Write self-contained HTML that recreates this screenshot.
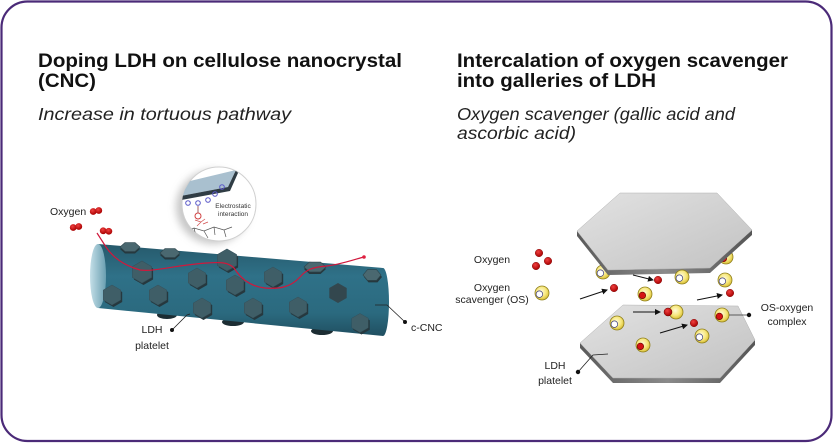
<!DOCTYPE html>
<html><head><meta charset="utf-8"><style>
html,body{margin:0;padding:0;background:#fff;}
svg{display:block;}
</style></head><body>
<svg width="835" height="443" viewBox="0 0 835 443" xmlns="http://www.w3.org/2000/svg" font-family="'Liberation Sans', sans-serif">
<defs>
<linearGradient id="cyl" x1="0" y1="0" x2="0" y2="1">
<stop offset="0" stop-color="#26596b"/><stop offset="0.35" stop-color="#2f7188"/><stop offset="0.75" stop-color="#2b6a7f"/><stop offset="1" stop-color="#204f61"/>
</linearGradient>
<linearGradient id="capg" x1="0" y1="0" x2="1" y2="0">
<stop offset="0" stop-color="#c4dfe8"/><stop offset="1" stop-color="#6a9fb1"/>
</linearGradient>
<linearGradient id="plt" x1="0" y1="0" x2="1" y2="1">
<stop offset="0" stop-color="#e2e2e2"/><stop offset="1" stop-color="#c2c2c2"/>
</linearGradient>
<linearGradient id="pltE" x1="0" y1="0" x2="1" y2="0">
<stop offset="0" stop-color="#5a5a5a"/><stop offset="0.5" stop-color="#8a8a8a"/><stop offset="1" stop-color="#555"/>
</linearGradient>
<radialGradient id="yg" cx="0.45" cy="0.4" r="0.6">
<stop offset="0" stop-color="#fffbd8"/><stop offset="0.6" stop-color="#f6e67a"/><stop offset="1" stop-color="#d9bf36"/>
</radialGradient>
<radialGradient id="rg" cx="0.4" cy="0.35" r="0.65">
<stop offset="0" stop-color="#f04040"/><stop offset="1" stop-color="#a80000"/>
</radialGradient>
<filter id="blur" x="-50%" y="-50%" width="200%" height="200%"><feGaussianBlur stdDeviation="4"/></filter>
<clipPath id="mag"><circle cx="219" cy="204" r="37"/></clipPath>
<polygon id="hx" points="0,-10 8.7,-5 8.7,5 0,10 -8.7,5 -8.7,-5"/>
<polygon id="hf" points="-10,0 -5,-4.5 5,-4.5 10,0 5,4.5 -5,4.5"/>
<g id="osw"><circle r="7" fill="url(#yg)" stroke="#8f7f1c" stroke-width="0.8"/><circle cx="-2.6" cy="1.2" r="3.3" fill="#fff" stroke="#3c3c7a" stroke-width="0.7"/></g>
<g id="osr"><circle r="7" fill="url(#yg)" stroke="#8f7f1c" stroke-width="0.8"/><circle cx="-2.6" cy="1.4" r="3.3" fill="#d41414" stroke="#6a0000" stroke-width="0.6"/></g>
<circle id="ox" r="3.8" fill="url(#rg)" stroke="#700" stroke-width="0.4"/>
<g id="o2"><circle cx="-2.8" cy="0.5" r="3.4" fill="url(#rg)"/><circle cx="2.8" cy="-0.5" r="3.4" fill="url(#rg)"/></g>
<marker id="ar" markerWidth="6" markerHeight="6" refX="5" refY="3" orient="auto" markerUnits="userSpaceOnUse"><path d="M0,0 L6,3 L0,6 Z" fill="#111"/></marker>
</defs>

<rect x="1.5" y="1.5" width="830" height="439.5" rx="26" ry="26" fill="#fff" stroke="#4b2a78" stroke-width="2.2"/>

<!-- Titles -->
<g fill="#111" font-weight="bold" font-size="19.5">
<text x="38" y="67" textLength="364" lengthAdjust="spacingAndGlyphs">Doping LDH on cellulose nanocrystal</text>
<text x="38" y="87" textLength="58" lengthAdjust="spacingAndGlyphs">(CNC)</text>
<text x="457" y="67" textLength="331" lengthAdjust="spacingAndGlyphs">Intercalation of oxygen scavenger</text>
<text x="457" y="87" textLength="199" lengthAdjust="spacingAndGlyphs">into galleries of LDH</text>
</g>
<g fill="#222" font-style="italic" font-size="17.5">
<text x="38" y="120" textLength="253" lengthAdjust="spacingAndGlyphs">Increase in tortuous pathway</text>
<text x="457" y="120" textLength="278" lengthAdjust="spacingAndGlyphs">Oxygen scavenger (gallic acid and</text>
<text x="457" y="139" textLength="119" lengthAdjust="spacingAndGlyphs">ascorbic acid)</text>
</g>

<!-- LEFT: magnifier -->
<circle cx="213" cy="207" r="37" fill="#9a9a9a" opacity="0.55" filter="url(#blur)"/>
<circle cx="219" cy="204" r="37" fill="#fff" stroke="#d0d0d0" stroke-width="1"/>
<g clip-path="url(#mag)">
<polygon points="181,196 190,181 236,170 228,187" fill="#a9c0cf"/>
<polygon points="181,196 228,187 236,170 238,173 230,191 181,200" fill="#2f3c44"/>
<g fill="none" stroke="#5a58c8" stroke-width="1">
<circle cx="188" cy="203" r="2.3"/><circle cx="198" cy="203" r="2.3"/><circle cx="208" cy="200" r="2.3"/><circle cx="215" cy="194" r="2.3"/><circle cx="222" cy="187" r="2.3"/>
</g>
<line x1="198" y1="206" x2="198" y2="213" stroke="#8a3a3a" stroke-width="0.8"/>
<circle cx="198" cy="216" r="3" fill="none" stroke="#d04040" stroke-width="1"/>
<path d="M195,220 L201,222 L197,226 M201,222 L205,219 M203,224 L208,222" stroke="#d05050" stroke-width="0.7" fill="none"/>
<path d="M186,232 L194,228 L204,231 L214,227 L224,230 L232,227 M194,228 L196,236 M214,227 L215,235 M204,231 L208,238 M224,230 L226,237" stroke="#555" stroke-width="0.7" fill="none"/>
<text x="233" y="208" font-size="6.5" fill="#333" text-anchor="middle">Electrostatic</text>
<text x="233" y="216" font-size="6.5" fill="#333" text-anchor="middle">interaction</text>
</g>

<!-- underside dark platelets -->
<g fill="#1c2d33">
<ellipse cx="167" cy="315" rx="10" ry="4"/>
<ellipse cx="233" cy="322" rx="11" ry="4"/>
<ellipse cx="322" cy="331" rx="11" ry="4"/>
</g>
<!-- cylinder -->
<path d="M98,244 L383,268 A6,34 0 0 1 383,336 L98,308 Z" fill="url(#cyl)"/>
<ellipse cx="98" cy="276" rx="8" ry="32" fill="url(#capg)"/>

<!-- hexagons on cylinder -->
<g>
<g fill="#26383e">
<use href="#hx" transform="translate(143.5,274) scale(1.1)"/>
<use href="#hx" transform="translate(198.5,280)"/>
<use href="#hx" transform="translate(274.5,279)"/>
<use href="#hx" transform="translate(236.5,287)"/>
<use href="#hx" transform="translate(113.5,297)"/>
<use href="#hx" transform="translate(159.5,297)"/>
<use href="#hx" transform="translate(203.5,310)"/>
<use href="#hx" transform="translate(254.5,310)"/>
<use href="#hx" transform="translate(299.5,309)"/>
<use href="#hx" transform="translate(361.5,325) scale(0.95)"/>
<use href="#hx" transform="translate(228.5,262) scale(1.1)"/>
<use href="#hf" transform="translate(130,249)"/>
<use href="#hf" transform="translate(170,255)"/>
<use href="#hf" transform="translate(315,269) scale(1.1)"/>
<use href="#hf" transform="translate(373,277) scale(0.9,1.2)"/>
</g>
<g fill="#3f5e67" stroke="#35505a" stroke-width="0.5">
<use href="#hx" transform="translate(142,272) scale(1.1)"/>
<use href="#hx" transform="translate(197,278)"/>
<use href="#hx" transform="translate(273,277)"/>
<use href="#hx" transform="translate(235,285)"/>
<use href="#hx" transform="translate(112,295)"/>
<use href="#hx" transform="translate(158,295)"/>
<use href="#hx" transform="translate(202,308)"/>
<use href="#hx" transform="translate(253,308)"/>
<use href="#hx" transform="translate(298,307)"/>
<use href="#hx" transform="translate(360,323) scale(0.95)"/>
<use href="#hx" transform="translate(227,260) scale(1.1)"/>
</g>
<use href="#hx" transform="translate(338,293)" fill="#33474e"/>
<g fill="#4a6870" stroke="#2e454c" stroke-width="0.6">
<use href="#hf" transform="translate(130,247)"/>
<use href="#hf" transform="translate(170,253)"/>
<use href="#hf" transform="translate(315,267) scale(1.1)"/>
<use href="#hf" transform="translate(372,275) scale(0.9,1.2)"/>
</g>
</g>

<!-- red path -->
<path d="M97,233 L106,247 C112,256 122,265 140,270 C155,272 175,265 207,263 C220,262 228,262 234,268 C240,277 248,286 265,288 C278,289 290,288 300,277 C306,270 312,267 327,266 C342,264 352,260 364,257" fill="none" stroke="#d0183c" stroke-width="1.2"/>
<circle cx="364" cy="257" r="1.8" fill="#e02040"/>

<!-- oxygen molecules left -->
<use href="#o2" transform="translate(96,211)"/>
<use href="#o2" transform="translate(76,227)"/>
<use href="#o2" transform="translate(106,231) rotate(15)"/>

<!-- left labels -->
<g font-size="10.5" fill="#222">
<text x="50" y="215">Oxygen</text>
<text x="152" y="333" text-anchor="middle">LDH</text>
<text x="152" y="349" text-anchor="middle">platelet</text>
<text x="411" y="331">c-CNC</text>
</g>
<path d="M190,314 L187,315 L172,330" fill="none" stroke="#222" stroke-width="0.8"/>
<circle cx="172" cy="330" r="2" fill="#111"/>
<path d="M375,305 L387,305 L405,322" fill="none" stroke="#222" stroke-width="0.8"/>
<circle cx="405" cy="322" r="2" fill="#111"/>

<!-- RIGHT -->
<use href="#osw" transform="translate(603,272)"/>
<use href="#osr" transform="translate(726,257)"/>
<!-- top platelet -->
<polygon points="577,236 608,275 710,273 752,235 752,230 710,268 608,270 577,231" fill="url(#pltE)"/>
<polygon points="620,193 717,193 752,230 710,268 608,270 577,231" fill="url(#plt)" stroke="#b0b0b0" stroke-width="0.5"/>

<use href="#osw" transform="translate(682,277)"/>
<use href="#osw" transform="translate(725,280)"/>
<use href="#osr" transform="translate(645,294)"/>
<use href="#ox" transform="translate(658,280)"/>
<use href="#ox" transform="translate(614,288)"/>
<use href="#ox" transform="translate(730,293)"/>

<!-- bottom platelet -->
<polygon points="580,348 613,383 720,383 755,345 755,340 720,378 613,378 580,343" fill="url(#pltE)"/>
<polygon points="623,305 738,306 755,340 720,378 613,378 580,343" fill="url(#plt)" stroke="#b0b0b0" stroke-width="0.5"/>

<use href="#osw" transform="translate(617,323)"/>
<use href="#osw" transform="translate(702,336)"/>
<use href="#osr" transform="translate(643,345)"/>
<use href="#osr" transform="translate(722,315)"/>
<g transform="translate(676,312)"><circle r="7" fill="url(#yg)" stroke="#8f7f1c" stroke-width="0.8"/></g>
<circle cx="668" cy="312" r="4" fill="url(#rg)" stroke="#600" stroke-width="0.5"/>
<use href="#ox" transform="translate(694,323)"/>

<!-- arrows -->
<g stroke="#111" stroke-width="1" marker-end="url(#ar)">
<line x1="580" y1="299" x2="607" y2="290"/>
<line x1="633" y1="275" x2="653" y2="280"/>
<line x1="697" y1="300" x2="722" y2="295"/>
<line x1="633" y1="312" x2="660" y2="312"/>
<line x1="660" y1="333" x2="687" y2="325"/>
</g>

<!-- right labels -->
<use href="#ox" transform="translate(539,253)"/>
<use href="#ox" transform="translate(548,261)"/>
<use href="#ox" transform="translate(536,266)"/>
<use href="#osw" transform="translate(542,293)"/>
<g font-size="10.5" fill="#222" text-anchor="middle">
<text x="492" y="263">Oxygen</text>
<text x="492" y="291">Oxygen</text>
<text x="492" y="303">scavenger (OS)</text>
<text x="555" y="369">LDH</text>
<text x="555" y="384">platelet</text>
<text x="787" y="311">OS-oxygen</text>
<text x="787" y="325">complex</text>
</g>
<line x1="729" y1="315" x2="748" y2="315" stroke="#333" stroke-width="0.8"/>
<circle cx="749" cy="315" r="2.2" fill="#111"/>
<path d="M608,354 L593,355 L578,372" fill="none" stroke="#222" stroke-width="0.8"/>
<circle cx="578" cy="372" r="2.2" fill="#111"/>
</svg>
</body></html>
